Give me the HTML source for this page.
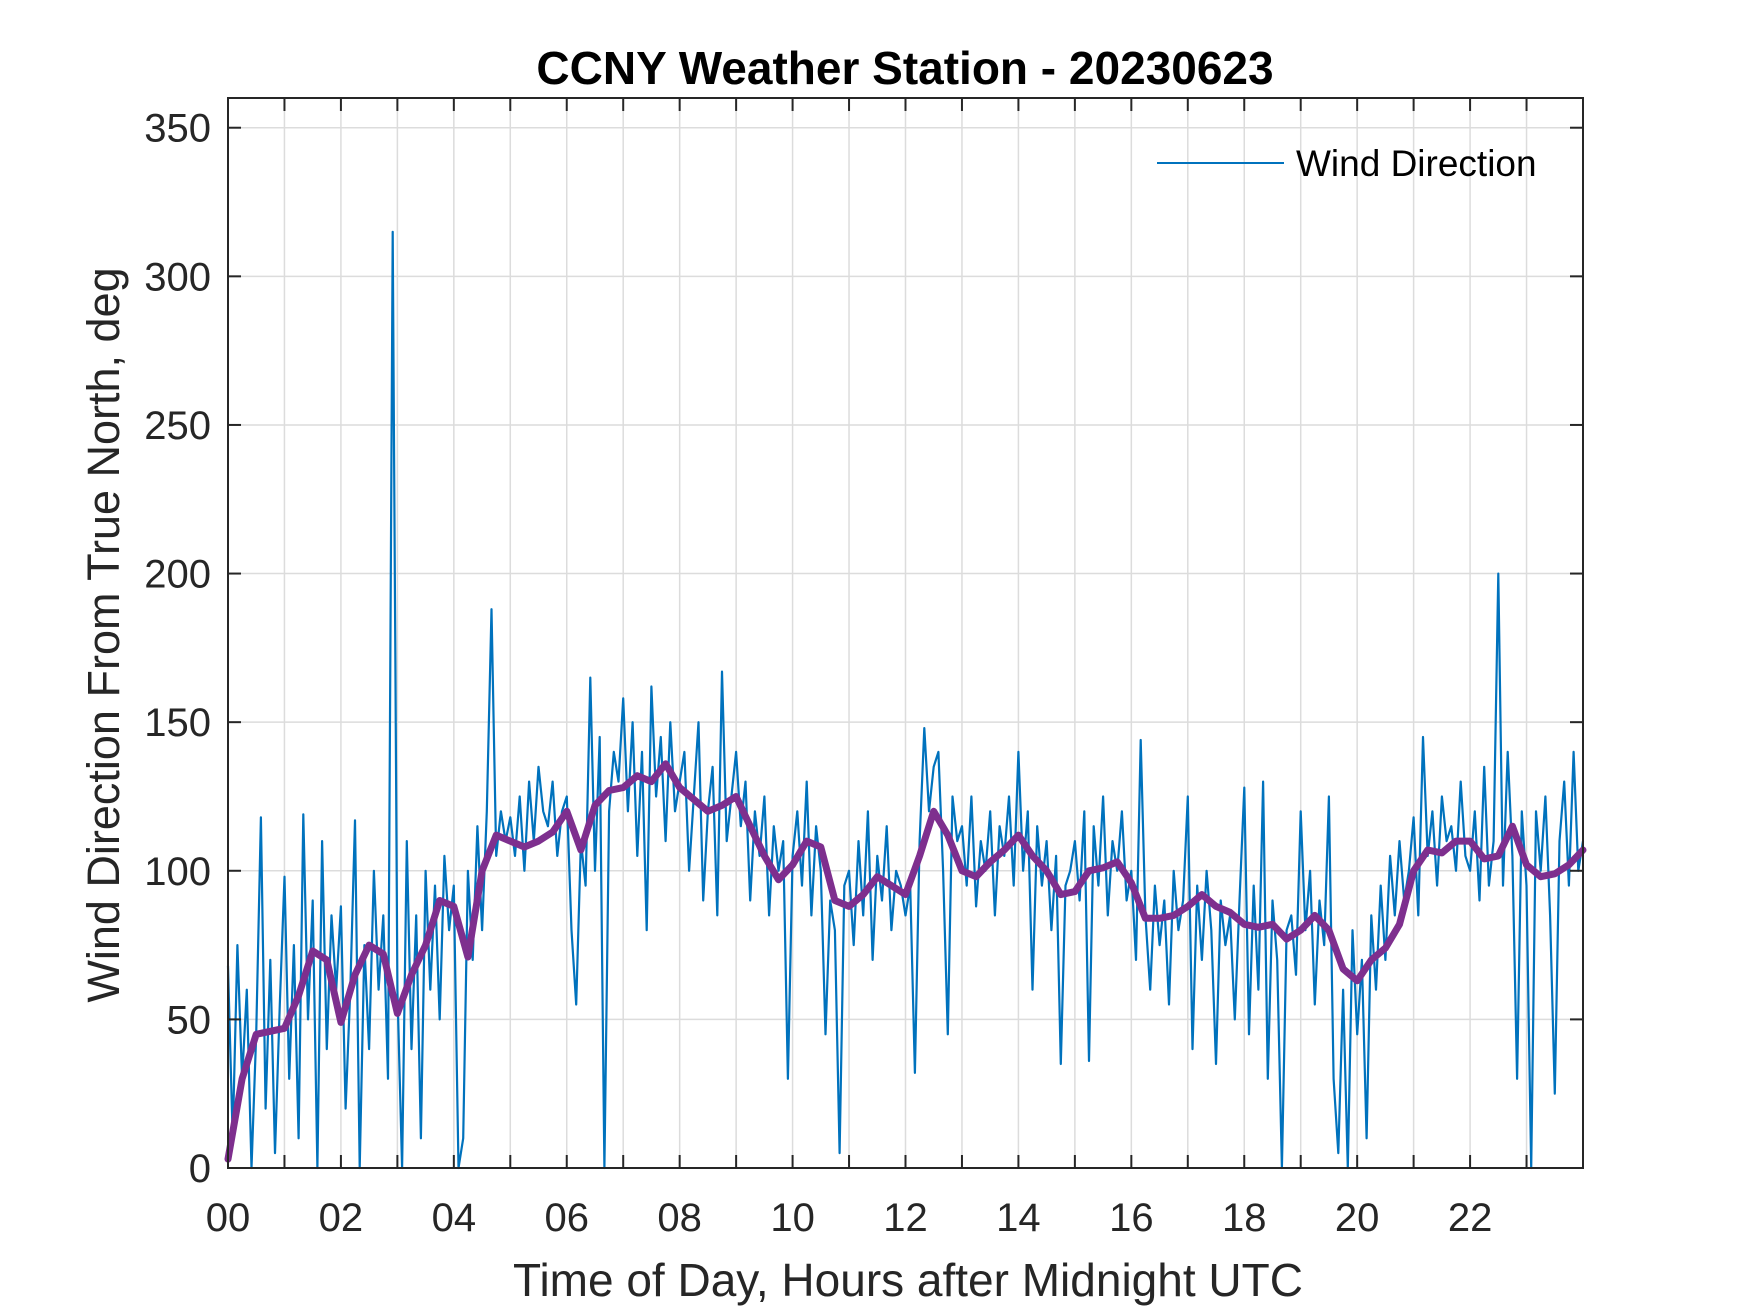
<!DOCTYPE html>
<html><head><meta charset="utf-8"><style>
body{margin:0;background:#fff}
svg{display:block;font-family:"Liberation Sans",Arial,sans-serif}
</style></head><body>
<svg id="chart" width="1750" height="1313" viewBox="0 0 1750 1313" xmlns="http://www.w3.org/2000/svg">
<rect width="1750" height="1313" fill="#fff"/>
<text x="905" y="84" text-anchor="middle" font-size="46" font-weight="bold" fill="#000">CCNY Weather Station - 20230623</text>
<g id="grid"></g>
<g id="series"></g>
<g id="axes"></g>
<text x="908" y="1296" text-anchor="middle" font-size="46" fill="#262626">Time of Day, Hours after Midnight UTC</text>
<text transform="translate(119,635) rotate(-90)" text-anchor="middle" font-size="45" fill="#262626">Wind Direction From True North, deg</text>
<g>
<line x1="1157" y1="163" x2="1284" y2="163" stroke="#0072BD" stroke-width="2"/>
<text x="1296" y="176" font-size="37" fill="#000">Wind Direction</text>
</g>
</svg>
<script>
const windDir = [
68,10,75,30,60,0,45,118,20,70,5,55,
98,30,75,10,119,50,90,0,110,40,85,60,
88,20,60,117,0,75,40,100,60,85,30,315,
60,0,110,40,85,10,100,60,95,50,105,80,
95,0,10,100,70,115,80,120,188,105,120,110,
118,105,125,100,130,110,135,120,115,130,105,120,
125,80,55,110,95,165,100,145,0,120,140,130,
158,120,150,105,140,80,162,125,145,110,150,120,
130,140,100,125,150,90,120,135,85,167,110,125,
140,115,130,90,120,105,125,85,115,100,110,30,
105,120,95,130,85,115,100,45,90,80,5,95,
100,75,110,85,120,70,105,90,115,80,100,95,
85,95,32,110,148,120,135,140,100,45,125,110,
115,95,125,88,110,100,120,85,115,105,125,95,
140,100,120,60,115,95,110,80,105,35,95,100,
110,90,120,36,115,95,125,85,110,100,120,90,
100,70,144,85,60,95,75,90,55,100,80,90,
125,40,95,70,100,80,35,90,75,85,50,90,
128,45,95,60,130,30,90,70,0,80,85,65,
120,80,100,55,90,75,125,30,5,60,0,80,
45,70,10,85,60,95,70,105,85,110,90,100,
118,85,145,105,120,95,125,110,115,100,130,105,
100,120,90,135,95,110,200,95,140,105,30,120,
95,0,120,100,125,85,25,110,130,95,140,100,
110];
const windStepHours = 1/12;
const smoothDir = [3,30,45,46,47,58,73,70,49,65,75,72,52,65,75,90,88,71,100,112,110,108,110,113,120,107,122,127,128,132,130,136,128,124,120,122,125,115,105,97,102,110,108,90,88,92,98,95,92,105,120,112,100,98,103,107,112,105,100,92,93,100,101,103,96,84,84,85,88,92,88,86,82,81,82,77,80,85,80,67,63,70,74,82,100,107,106,110,110,104,105,115,102,98,99,102,107];
const smoothStepHours = 0.25;
const yTicks = [0,50,100,150,200,250,300,350];
const xTickLabels = ["00","02","04","06","08","10","12","14","16","18","20","22"];

const L=228,R=1583,T=98,B=1168,XMAX=24,YMAX=360;
const sx=h=>L+(R-L)*h/XMAX, sy=v=>B-(B-T)*v/YMAX;
const NS="http://www.w3.org/2000/svg";
function mk(tag,attrs,parent){const e=document.createElementNS(NS,tag);for(const k in attrs)e.setAttribute(k,attrs[k]);parent.appendChild(e);return e;}
const grid=document.getElementById('grid'),axes=document.getElementById('axes'),series=document.getElementById('series');
for(let h=1;h<24;h++){
  const g=mk('line',{x1:sx(h),x2:sx(h),y1:T,y2:B,stroke:'#dcdcdc','stroke-width':1.5},grid);
  
  
}
yTicks.forEach(v=>{ if(v===0)return;
  const g=mk('line',{x1:L,x2:R,y1:sy(v),y2:sy(v),stroke:'#dcdcdc','stroke-width':1.5},grid);
  
  
});
let d='';windDir.forEach((v,i)=>{d+=(i?'L':'M')+sx(i*windStepHours).toFixed(1)+','+sy(v).toFixed(1);});
const p1=mk('path',{d:d,fill:'none',stroke:'#0072BD','stroke-width':2.2,'stroke-linejoin':'round'},series);


let d2='';smoothDir.forEach((v,i)=>{d2+=(i?'L':'M')+sx(i*smoothStepHours).toFixed(1)+','+sy(v).toFixed(1);});
const p2=mk('path',{d:d2,fill:'none',stroke:'#7E2F8E','stroke-width':7,'stroke-linejoin':'round','stroke-linecap':'round'},series);


const box=mk('rect',{x:L,y:T,width:R-L,height:B-T,fill:'none',stroke:'#262626','stroke-width':2},axes);


for(let h=1;h<24;h++){
  const t1=mk('line',{x1:sx(h),x2:sx(h),y1:B,y2:B-13,stroke:'#262626','stroke-width':2},axes);
  
  
  const t2=mk('line',{x1:sx(h),x2:sx(h),y1:T,y2:T+13,stroke:'#262626','stroke-width':2},axes);
  
  
}
xTickLabels.forEach((s,i)=>{
  const t=mk('text',{x:sx(i*2),y:1231,'text-anchor':'middle','font-size':40,fill:'#262626'},axes);
  t.textContent=s;
  
  
});
yTicks.forEach(v=>{
  const a=mk('line',{x1:L,x2:L+13,y1:sy(v),y2:sy(v),stroke:'#262626','stroke-width':2},axes);
  
  
  const b=mk('line',{x1:R,x2:R-13,y1:sy(v),y2:sy(v),stroke:'#262626','stroke-width':2},axes);
  
  
  const t=mk('text',{x:211,y:sy(v)+14,'text-anchor':'end','font-size':40,fill:'#262626'},axes);
  t.textContent=v;
  
  
});
</script>
</body></html>
